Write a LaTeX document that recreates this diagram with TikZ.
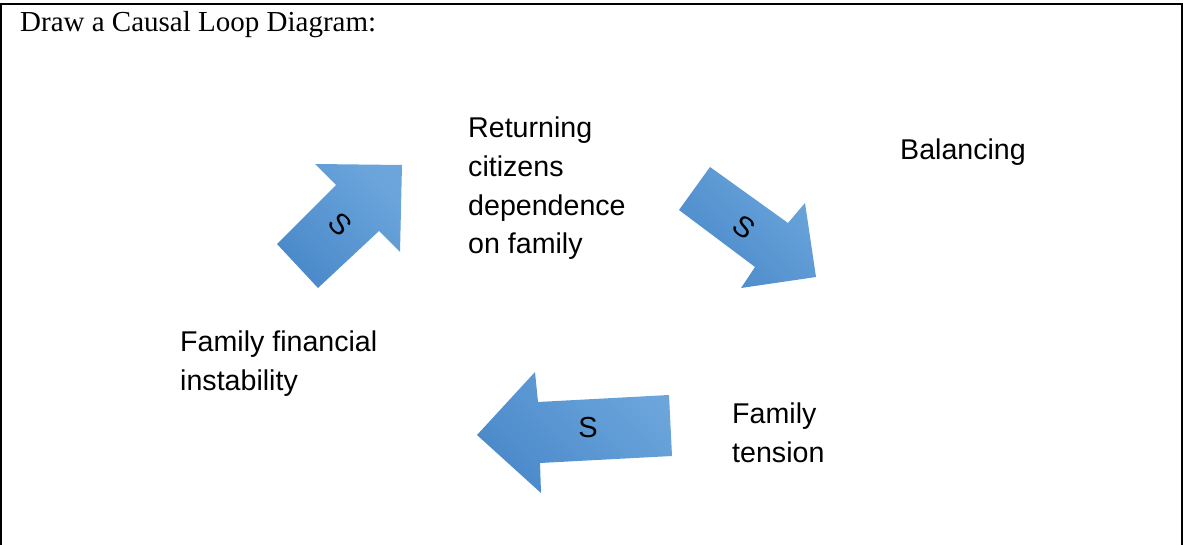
\documentclass[tikz,border=0pt]{standalone}
\usepackage{fontspec}
\setmainfont{Liberation Serif}
\newfontfamily\arialfont{Liberation Sans}
\begin{document}
\begin{tikzpicture}[x=1pt,y=-1pt,
  lbl/.style={font=\arialfont\fontsize{28.6}{38.7}\selectfont, inner sep=0pt, anchor=base west, align=left},
  blockarrow/.style={top color=arrowlight, bottom color=arrowdark, shading angle=-45, draw=none},
  slabel/.style={font=\arialfont\fontsize{29}{34}\selectfont, inner sep=0pt},
  frame/.style={line width=2pt, draw=black}]
\definecolor{arrowlight}{HTML}{6BA5DB}
\definecolor{arrowdark}{HTML}{4A89CA}
\useasboundingbox (0,0) rectangle (1183,545);
% frame
\draw[frame] (1.3,545) -- (1.3,4) -- (1181.5,4) -- (1181.5,545);
% title
\node[font=\fontsize{29}{34}\selectfont, inner sep=0pt, anchor=base west] (title) at (20,32) {Draw a Causal Loop Diagram:};
% labels (anchor = baseline of last line)
\node[lbl] (ret) at (468,254) {Returning\\citizens\\dependence\\on family};
\node[lbl] (bal) at (900,160) {Balancing};
\node[lbl] (ffi) at (180,390) {Family financial\\instability};
\node[lbl] (ften) at (732,462) {Family\\tension};
% arrow 1 (up-right)
\shade[blockarrow] (277,244) -- (336,185) -- (315,164) -- (402,165) -- (400,252) -- (379,231) -- (318,288) -- cycle;
\node[slabel, rotate=-45] (s1) at (340,224) {S};
% arrow 2 (down-right)
\shade[blockarrow] (710,167) -- (788,223) -- (805,203) -- (816,277) -- (741,288) -- (755,267) -- (679,210) -- cycle;
\node[slabel, rotate=-36] (s2) at (744,227) {S};
% arrow 3 (left)
\shade[blockarrow] (669,395) -- (538,402) -- (535,372) -- (477,435) -- (541,493) -- (540,463) -- (672,456) -- cycle;
\node[slabel] (s3) at (588,428) {S};
\end{tikzpicture}
\end{document}
